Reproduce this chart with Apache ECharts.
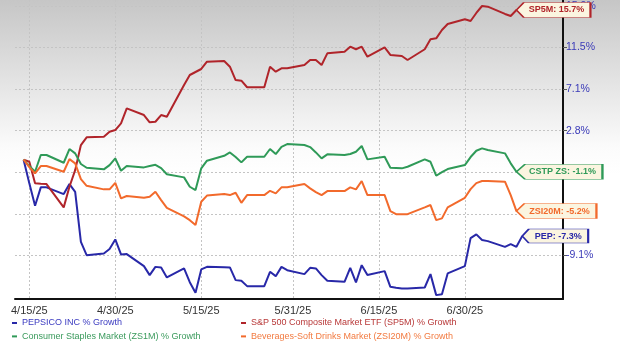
<!DOCTYPE html>
<html>
<head>
<meta charset="utf-8">
<script src="https://cdn.jsdelivr.net/npm/echarts@6/dist/echarts.min.js"></script>
<style>
  html, body { margin: 0; padding: 0; background: #fff; }
  #chart { width: 620px; height: 350px; }
</style>
</head>
<body>
<div id="chart"></div>
<script>
// trading days
var dates = ['2025-04-14','2025-04-15','2025-04-16','2025-04-17','2025-04-18',
  '2025-04-21','2025-04-22','2025-04-23','2025-04-24','2025-04-25',
  '2025-04-28','2025-04-29','2025-04-30','2025-05-01','2025-05-02',
  '2025-05-05','2025-05-06','2025-05-07','2025-05-08','2025-05-09',
  '2025-05-12','2025-05-13','2025-05-14','2025-05-15','2025-05-16',
  '2025-05-19','2025-05-20','2025-05-21','2025-05-22','2025-05-23',
  '2025-05-26','2025-05-27','2025-05-28','2025-05-29','2025-05-30',
  '2025-06-02','2025-06-03','2025-06-04','2025-06-05','2025-06-06',
  '2025-06-09','2025-06-10','2025-06-11','2025-06-12','2025-06-13',
  '2025-06-16','2025-06-17','2025-06-18','2025-06-19','2025-06-20',
  '2025-06-23','2025-06-24','2025-06-25','2025-06-26','2025-06-27',
  '2025-06-30','2025-07-01','2025-07-02','2025-07-03','2025-07-04',
  '2025-07-07','2025-07-08','2025-07-09','2025-07-10']

// % growth
var pep = [0, -2.45, -4.77, -2.86, -2.86,
  -3.56, -2.52, -3.32, -8.49, -9.87,
  -9.69, -9.24, -8.24, -9.79, -9.76,
  -11.00, -11.93, -11.08, -11.14, -12.17,
  -11.24, -12.66, -13.76, -11.34, -11.08,
  -11.11, -11.14, -12.45, -12.52, -13.07,
  -13.07, -11.59, -12.04, -11.08, -11.42,
  -11.83, -11.18, -11.24, -11.93, -12.52,
  -12.63, -11.18, -12.69, -10.90, -11.93,
  -11.52, -13.14, -13.23, -13.31, -13.31,
  -13.21, -11.83, -14.00, -13.90, -11.76,
  -11.00, -8.11, -7.72, -8.31, -8.42,
  -9.01, -8.73, -9.01, -7.90]
var sp5m = [0, -0.22, -2.45, -2.49, -2.52,
  -4.93, -2.80, -1.08, 1.51, 2.31,
  2.37, 2.89, 3.06, 3.75, 5.30,
  4.61, 3.86, 3.92, 4.61, 4.44,
  7.71, 8.75, 9.06, 9.37, 10.12,
  10.20, 9.61, 8.23, 8.16, 7.48,
  7.48, 9.61, 9.09, 9.44, 9.44,
  9.78, 10.30, 10.30, 9.78, 10.99,
  11.16, 11.68, 11.41, 11.68, 10.64,
  11.61, 10.82, 10.77, 10.71, 10.30,
  11.41, 12.44, 12.54, 13.40, 14.02,
  14.51, 14.33, 15.16, 15.88, 15.81,
  15.06, 14.85, 15.47, null]
var cstp = [0, -0.66, -1.25, 0.48, 0.48,
  -0.32, 1.10, 0.65, -0.45, -0.84,
  -1.00, -0.56, 0.13, -1.15, -0.66,
  -0.80, -0.66, -0.53, -0.87, -1.51,
  -1.83, -2.80, -3.14, -0.90, -0.11,
  0.40, 0.75, 0.27, -0.28, 0.30,
  0.30, 1.10, 0.58, 1.33, 1.61,
  1.51, 1.30, 0.75, 0.13, 0.55,
  0.48, 0.58, 0.82, 1.41, 0.03,
  0.30, -0.84, -0.87, -0.90, -0.73,
  0.03, -0.22, -1.66, -1.28, -0.97,
  -0.56, 0.27, 0.92, 1.17, 0.99,
  0.65, -0.38, -1.25, null]
var zsi20m = [0, -0.77, -1.42, -0.66, -0.66,
  -1.25, 0.06, -0.38, -2.01, -2.70,
  -3.07, -3.07, -2.39, -4.00, -3.76,
  -3.94, -3.84, -3.32, -4.18, -4.98,
  -5.86, -6.25, -6.76, -4.35, -3.71,
  -3.56, -3.66, -3.42, -4.46, -3.66,
  -3.66, -3.22, -3.48, -2.86, -2.86,
  -2.52, -2.97, -3.35, -3.66, -3.25,
  -3.25, -2.86, -3.07, -2.21, -3.66,
  -3.66, -5.32, -5.63, -5.63, -5.63,
  -4.93, -4.69, -6.25, -6.07, -4.93,
  -3.94, -3.04, -2.42, -2.21, -2.21,
  -2.28, -3.66, -5.31, null]

var names = ['PEPSICO INC % Growth', 'S&P 500 Composite Market ETF (SP5M) % Growth',
  'Consumer Staples Market (ZS1M) % Growth', 'Beverages-Soft Drinks Market (ZSI20M) % Growth']
var endTags = ['PEP: -7.3%', 'SP5M: 15.7%', 'CSTP ZS: -1.1%', 'ZSI20M: -5.2%']

var xTicks = ['2025-04-15', '2025-04-30', '2025-05-15', '2025-05-31', '2025-06-15', '2025-06-30']
var yTickValues = [-9.9, -5.6, -1.3, 3.0, 7.3, 11.6, 15.9]
var yTickLabels = ['-9.1%', '-5.8%', '-1.5%', '2.8%', '7.1%', '11.5%', '15.9%']

var font = '"Liberation Sans", Arial, sans-serif'
var lineColors = ['#2828a8', '#b0242a', '#2f9a58', '#f26a2c']
var textColors = ['#3a3ac0', '#b83838', '#3a9a5c', '#f27a40']
var tagSizes = [[66, 14], [74, 15], [86, 15], [80, 15]]

function ts(s) { return echarts.time.parse(s).getTime() }

function pairs(vals) {
  var out = []
  for (var i = 0; i < dates.length; i++) {
    if (vals[i] !== null) out.push([ts(dates[i]), vals[i]])
  }
  return out
}

// end-of-line tag with a left pointer
function tag(data, i) {
  var last = data[data.length - 1]
  var w = tagSizes[i][0], h = tagSizes[i][1]
  return {
    silent: true,
    symbol: 'path://M0,7 L8,0 L80,0 L80,14 L8,14 Z',
    symbolSize: [w, h],
    symbolKeepAspect: false,
    symbolOffset: [w / 2, 0],
    itemStyle: { color: '#fbf5e0', borderColor: lineColors[i], borderWidth: 1 },
    label: {
      show: true, position: 'inside', offset: [3, 0], formatter: endTags[i],
      color: lineColors[i], fontSize: 9, fontWeight: 'bold', fontFamily: font
    },
    data: [{ coord: last }]
  }
}

var chart = echarts.init(document.getElementById('chart'))
var allVals = [pep, sp5m, cstp, zsi20m]
var series = allVals.map(function(vals, i) {
  var data = pairs(vals)
  return {
    name: names[i],
    type: 'line',
    data: data,
    showSymbol: false,
    color: lineColors[i],
    lineStyle: { width: 2, color: lineColors[i] },
    z: 3 + i,
    markPoint: tag(data, i)
  }
})

var legendItem = function(i) {
  return { name: names[i], textStyle: { color: textColors[i] } }
}
var legendBase = {
  orient: 'vertical', top: 317.5, padding: 0, itemGap: 2.4,
  icon: 'rect', itemWidth: 5, itemHeight: 2, selectedMode: false,
  textStyle: { fontSize: 9, fontFamily: font, lineHeight: 11 }
}

var xTickTs = xTicks.map(ts)

chart.setOption({
  animation: false,
  backgroundColor: new echarts.graphic.LinearGradient(0, 0, 0, 1, [
    { offset: 0, color: '#c6c6c6' },
    { offset: 0.42, color: '#fbfbfb' },
    { offset: 0.5, color: '#ffffff' },
    { offset: 1, color: '#ffffff' }
  ]),
  grid: { left: 15, right: 57, top: 0, bottom: 51 },
  legend: [
    Object.assign({ left: 12, data: [legendItem(0), legendItem(2)] }, legendBase),
    Object.assign({ left: 241, data: [legendItem(1), legendItem(3)] }, legendBase)
  ],
  xAxis: {
    type: 'value',
    min: ts('2025-04-12 12:00'),
    max: ts('2025-07-17 03:00'),
    axisLine: { onZero: false, lineStyle: { color: '#111', width: 2 } },
    axisTick: { show: false, customValues: xTickTs },
    axisLabel: {
      customValues: xTickTs,
      formatter: function(v) { var d = new Date(v); return (d.getMonth() + 1) + '/' + d.getDate() + '/25' },
      color: '#333', fontSize: 11, fontFamily: font, margin: 6
    },
    splitLine: { show: true, lineStyle: { color: '#c4c4c4', type: [2, 2], width: 1 } }
  },
  yAxis: {
    type: 'value',
    position: 'right',
    min: -14.4,
    max: 16.5,
    axisLine: { show: true, onZero: false, lineStyle: { color: '#111', width: 2 } },
    axisTick: { show: true, length: 4, customValues: yTickValues, lineStyle: { color: '#555' } },
    axisLabel: {
      customValues: yTickValues,
      formatter: function(v) {
        var k = yTickValues.indexOf(Math.round(v * 10) / 10)
        return k >= 0 ? yTickLabels[k] : ''
      },
      color: '#3a3ab8', fontSize: 10.5, fontFamily: font, margin: 3
    },
    splitLine: { show: true, lineStyle: { color: '#c4c4c4', type: [2, 2], width: 1 } }
  },
  series: series
})
</script>
</body>
</html>
